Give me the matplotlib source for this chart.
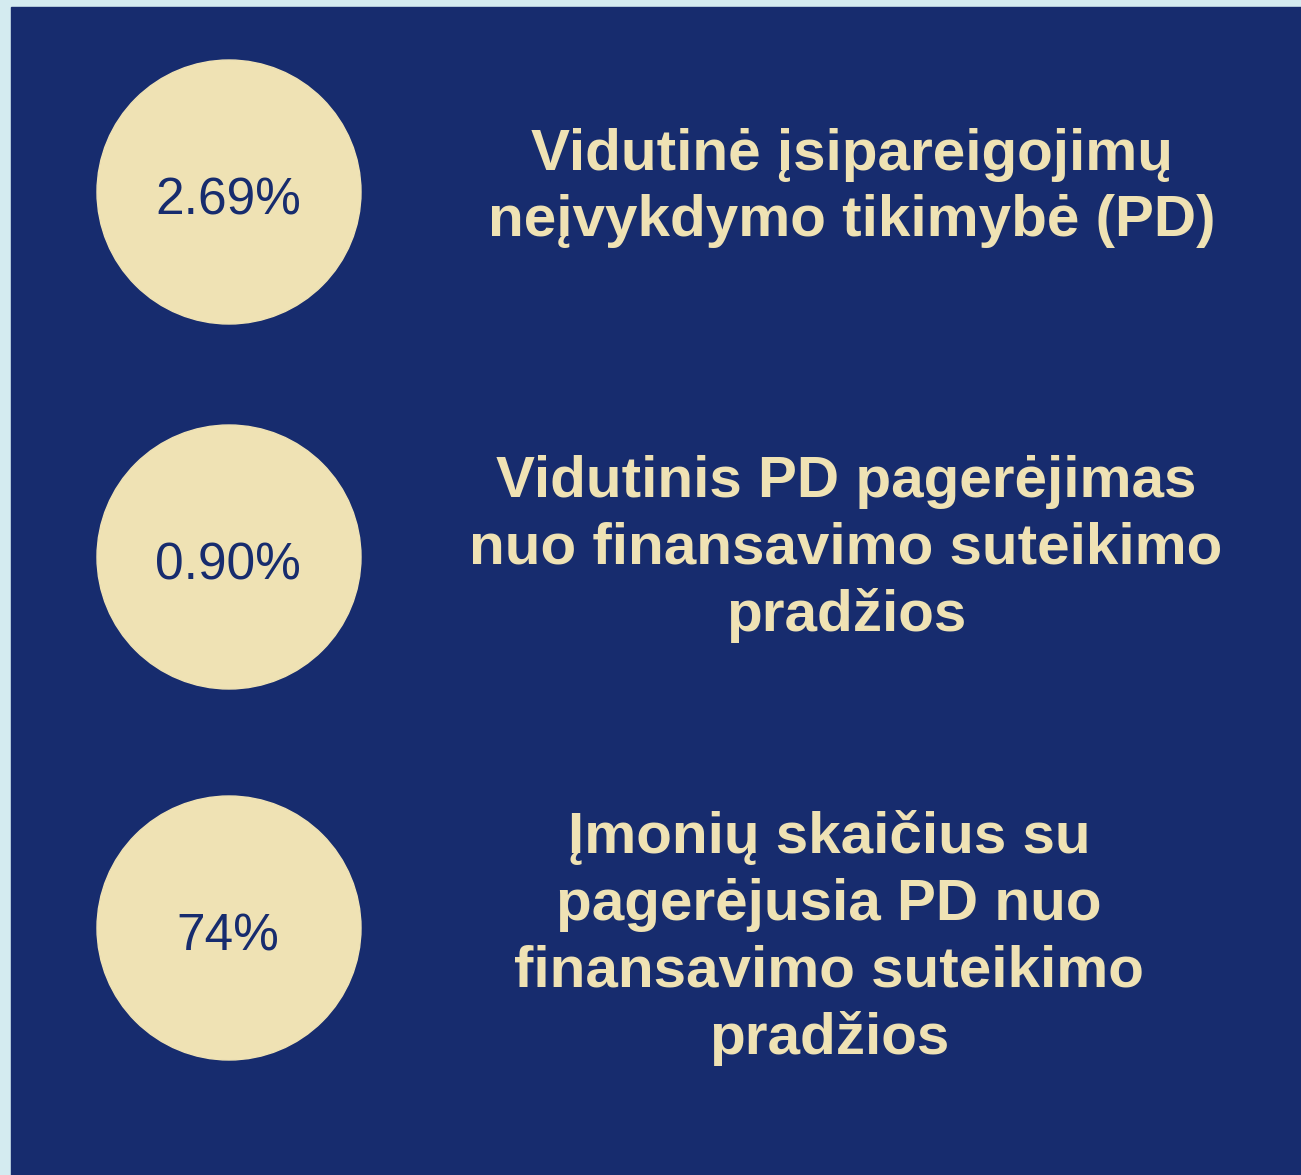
import matplotlib.pyplot as plt
from matplotlib.patches import Circle, Rectangle

# values shown in the circles and the captions next to them
values = ['2.69%', '0.90%', '74%']
captions = [
    'Vidutinė įsipareigojimų\nneįvykdymo tikimybė (PD)',
    'Vidutinis PD pagerėjimas\nnuo finansavimo suteikimo\npradžios',
    'Įmonių skaičius su\npagerėjusia PD nuo\nfinansavimo suteikimo\npradžios',
]

navy = '#172c6e'
cream = '#efe2b4'
light = '#d4ebf0'

W, H = 1301, 1175
fig = plt.figure(figsize=(W / 100, H / 100), dpi=100)
fig.patch.set_facecolor(light)
ax = fig.add_axes([0, 0, 1, 1])
ax.set_xlim(0, W)
ax.set_ylim(H, 0)
ax.axis('off')

# navy panel
ax.add_patch(Rectangle((11, 7), W - 11, H - 7, color=navy, zorder=0))

# layout: circle centres and caption centres (pixels)
circle_y = [192, 557, 928]
text_x = [852, 846, 829]
text_y = [188, 549, 938]
for v, c, cy, tx, ty in zip(values, captions, circle_y, text_x, text_y):
    ax.add_patch(Circle((229, cy), 132, color=cream, zorder=1))
    ax.text(228, cy + 9, v, ha='center', va='center', color=navy,
            fontsize=37, family='Liberation Sans', zorder=2)
    ax.text(tx, ty, c, ha='center', va='center', color=cream,
            fontsize=42, fontweight='bold', family='Liberation Sans',
            linespacing=1.3, zorder=2)

fig.savefig('out.png', dpi=100, facecolor=light)
